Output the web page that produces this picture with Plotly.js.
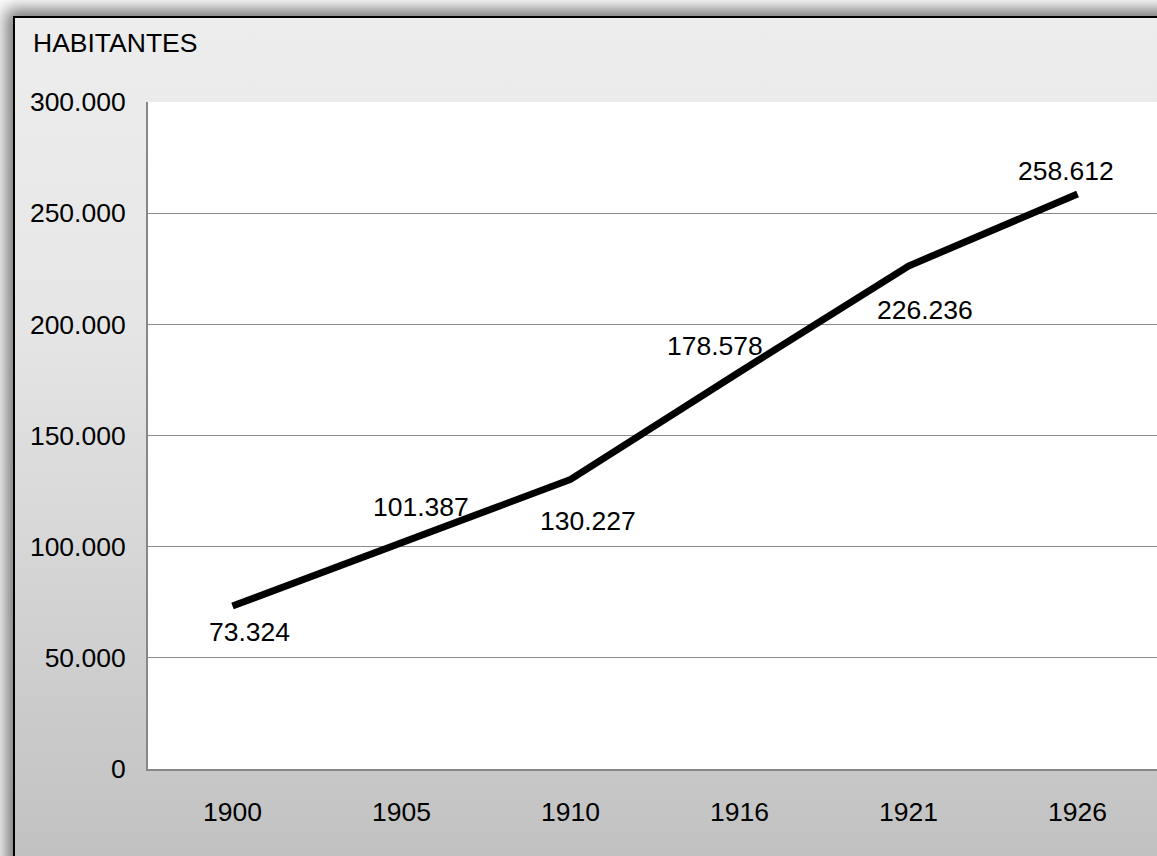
<!DOCTYPE html>
<html>
<head>
<meta charset="utf-8">
<script src="https://cdn.plot.ly/plotly-3.0.1.min.js"></script>
<style>
  html, body { margin: 0; padding: 0; background: #ffffff; overflow: hidden; width: 1157px; height: 856px; }
  #frame {
    position: absolute; left: 13px; top: 16px; width: 1300px; height: 860px;
    border: 2px solid #000; box-sizing: border-box;
    background: linear-gradient(to bottom, #ededed 0%, #e6e6e6 35%, #c0c0c0 100%);
    box-shadow: 0 0 16px 7px rgba(0,0,0,0.55);
  }
  #chart { position: absolute; left: 0; top: 0; width: 1157px; height: 856px; }
</style>
</head>
<body>
<div id="frame"></div>
<div id="chart"></div>
<script>
// Data
const years = ['1900', '1905', '1910', '1916', '1921', '1926'];
const population = [73324, 101387, 130227, 178578, 226236, 258612];
const yTickValues = [0, 50000, 100000, 150000, 200000, 250000, 300000];
const axisTitle = 'HABITANTES';

// Label offsets (style only)
const labelShiftX = [17, 19, 17, -25, 16, -12];
const labelShiftY = [-26, 37, -42, 26, -44, 23];

function fmt(v) {
  return String(v).replace(/\B(?=(\d{3})+(?!\d))/g, '.');
}

function mkFont() { return { family: 'Liberation Sans, Arial, sans-serif', size: 26.5, color: '#000' }; }

const trace = {
  x: years,
  y: population,
  type: 'scatter',
  mode: 'lines',
  line: { color: '#000000', width: 7 },
  hoverinfo: 'skip'
};

const annotations = years.map((yr, i) => ({
  x: i, y: population[i], xref: 'x', yref: 'y',
  text: fmt(population[i]), showarrow: false,
  xshift: labelShiftX[i], yshift: labelShiftY[i],
  font: mkFont(), xanchor: 'center', yanchor: 'middle'
}));

const layout = {
  width: 1157, height: 856,
  margin: { l: 148, r: 0, t: 102, b: 87, pad: 0 },
  paper_bgcolor: 'rgba(0,0,0,0)',
  plot_bgcolor: '#ffffff',
  separators: ',.',
  showlegend: false,
  hovermode: false,
  font: mkFont(),
  title: {
    text: axisTitle, font: mkFont(),
    x: 33 / 1157, xanchor: 'left', xref: 'container',
    y: 1 - 43 / 856, yanchor: 'middle', yref: 'container'
  },
  xaxis: {
    type: 'category',
    range: [-0.5, 5.47],
    showgrid: false, zeroline: false,
    showline: true, linecolor: '#878787', linewidth: 2,
    ticks: '', ticklabelstandoff: 18,
    tickfont: mkFont(), fixedrange: true
  },
  yaxis: {
    range: [0, 300000],
    tickvals: yTickValues,
    ticktext: yTickValues.map(fmt),
    showgrid: true, gridcolor: '#8a8a8a', gridwidth: 1,
    zeroline: false,
    showline: true, linecolor: '#878787', linewidth: 2,
    ticks: '', ticklabelstandoff: 15,
    tickfont: mkFont(), fixedrange: true
  },
  annotations: annotations
};

Plotly.newPlot('chart', [trace], layout, { displayModeBar: false, staticPlot: true });
</script>
</body>
</html>
